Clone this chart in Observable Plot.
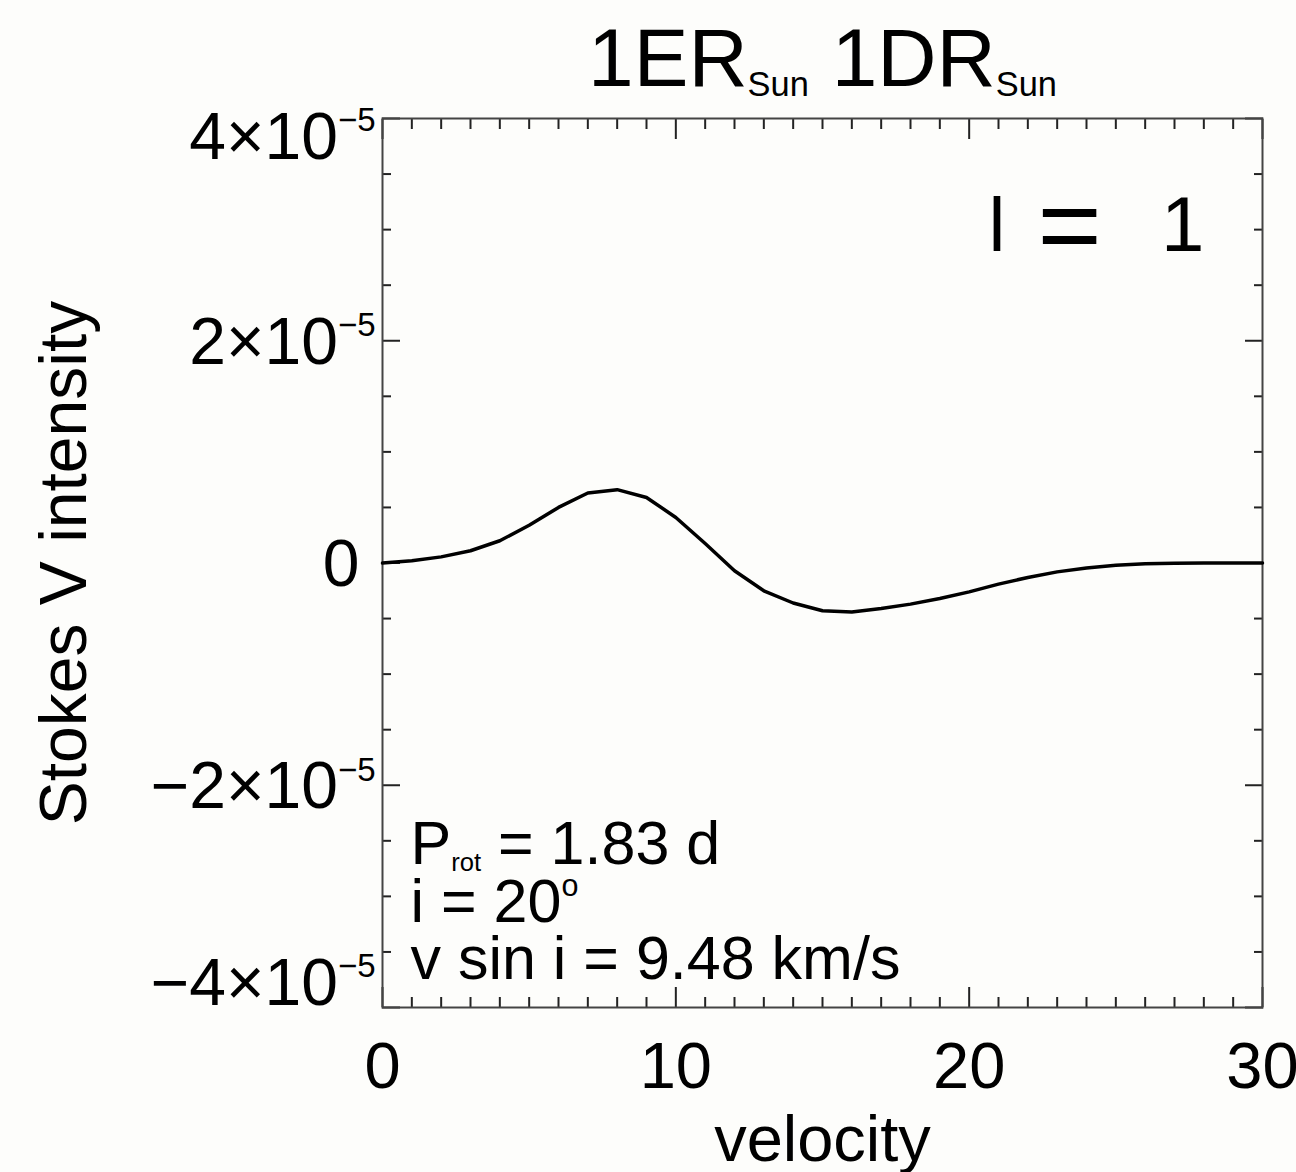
<!DOCTYPE html>
<html>
<head>
<meta charset="utf-8">
<script src="https://cdn.jsdelivr.net/npm/d3@7"></script>
<script src="https://cdn.jsdelivr.net/npm/@observablehq/plot@0.6"></script>
<style>
  body { margin: 0; background: #fdfdfb; }
  svg text { white-space: pre; }
</style>
</head>
<body>
<div id="chart"></div>
<script>
// ---- data ----
const velocity = [0,1,2,3,4,5,6,7,8,9,10,11,12,13,14,15,16,17,18,19,20,21,22,23,24,25,26,27,28,29,30];
const stokesV = [0, 2e-7, 5.5e-7, 1.1e-6, 2.0e-6, 3.4e-6, 5.0e-6, 6.3e-6, 6.6e-6, 5.9e-6, 4.1e-6, 1.75e-6,
  -7e-7, -2.5e-6, -3.6e-6, -4.3e-6, -4.4e-6, -4.1e-6, -3.7e-6, -3.2e-6, -2.6e-6, -1.9e-6, -1.3e-6,
  -8e-7, -4.5e-7, -2e-7, -6e-8, -2e-8, 0, 0, 0];

const xMajorTicks = [0, 10, 20, 30];
const xMinorTicks = [1,2,3,4,5,6,7,8,9,11,12,13,14,15,16,17,18,19,21,22,23,24,25,26,27,28,29];
const yMajorTicks = [-4e-5, -2e-5, 0, 2e-5, 4e-5];
const yMinorTicks = [-3.5e-5,-3e-5,-2.5e-5,-1.5e-5,-1e-5,-0.5e-5,0.5e-5,1e-5,1.5e-5,2.5e-5,3e-5,3.5e-5];
const xTickLabels = ["0", "10", "20", "30"];

const titleText = "1ER_{Sun} 1DR_{Sun}";
const xLabel = "velocity";
const yLabel = "Stokes V intensity";
const infoLines = ["P_{rot} = 1.83 d", "i = 20^{o}", "v sin i = 9.48 km/s"];

// ---- helpers ----
const data = velocity.map((v, i) => ({v, s: stokesV[i]}));
const yFmt = d => {
  if (d === 0) return "0";
  const m = Math.round(Math.abs(d) * 1e5);
  return (d < 0 ? "−" : "") + m + "×10^{−5}";
};
const xLabelData = xMajorTicks.map((t, i) => ({t, label: xTickLabels[i]}));
const FONT = "'Liberation Sans', Arial, Helvetica, sans-serif";
const tk = {fill: "none", label: null, stroke: "#222", strokeWidth: 2};

const plot = Plot.plot({
  width: 1296,
  height: 1172,
  marginLeft: 382,
  marginRight: 34,
  marginTop: 118,
  marginBottom: 165,
  style: {fontFamily: FONT, background: "#fdfdfb", color: "#000", overflow: "visible"},
  x: {domain: [0, 30]},
  y: {domain: [-4e-5, 4e-5]},
  marks: [
    // ticks (inward) on all four sides
    Plot.axisX(xMajorTicks, {anchor: "bottom", tickSize: -20, ...tk}),
    Plot.axisX(xMinorTicks, {anchor: "bottom", tickSize: -10, ...tk}),
    Plot.axisX(xMajorTicks, {anchor: "top", tickSize: -20, ...tk}),
    Plot.axisX(xMinorTicks, {anchor: "top", tickSize: -10, ...tk}),
    Plot.axisY(yMajorTicks, {anchor: "left", tickSize: -18, ...tk}),
    Plot.axisY(yMinorTicks, {anchor: "left", tickSize: -9, ...tk}),
    Plot.axisY(yMajorTicks, {anchor: "right", tickSize: -18, ...tk}),
    Plot.axisY(yMinorTicks, {anchor: "right", tickSize: -9, ...tk}),
    Plot.frame({stroke: "#444", strokeWidth: 2}),
    // curve
    Plot.line(data, {x: "v", y: "s", stroke: "#000", strokeWidth: 3.5, curve: "linear"}),
    // x tick labels
    Plot.text(xLabelData, {x: "t", frameAnchor: "bottom", text: "label", lineAnchor: "bottom", dy: 80, fontSize: 65, fill: "#000"}),
    // y tick labels
    Plot.text(yMajorTicks.filter(d => Math.abs(d) === 2e-5), {y: d => d, frameAnchor: "left", text: yFmt, textAnchor: "end", lineAnchor: "bottom", dx: -7, dy: 23, fontSize: 66, fill: "#000"}),
    Plot.text(yMajorTicks.filter(d => d === 0), {y: d => d, frameAnchor: "left", text: yFmt, textAnchor: "end", lineAnchor: "bottom", dx: -23, dy: 23, fontSize: 66, fill: "#000"}),
    Plot.text(yMajorTicks.filter(d => d === 4e-5), {y: d => d, frameAnchor: "left", text: yFmt, textAnchor: "end", lineAnchor: "bottom", dx: -7, dy: 40, fontSize: 66, fill: "#000"}),
    Plot.text(yMajorTicks.filter(d => d === -4e-5), {y: d => d, frameAnchor: "left", text: yFmt, textAnchor: "end", lineAnchor: "bottom", dx: -7, dy: -3, fontSize: 66, fill: "#000"}),
    // axis titles
    Plot.text([xLabel], {frameAnchor: "bottom", text: d => d, lineAnchor: "bottom", dy: 153, fontSize: 65, fill: "#000"}),
    Plot.text([yLabel], {frameAnchor: "left", text: d => d, rotate: -90, textAnchor: "middle", lineAnchor: "bottom", dx: -297, fontSize: 66, fill: "#000"}),
    // title
    Plot.text([titleText], {frameAnchor: "top", text: d => d, lineAnchor: "bottom", dy: -33, fontSize: 82, fill: "#000"}),
    // l = 1 annotation
    Plot.text(["l"], {frameAnchor: "top-right", text: d => d, textAnchor: "start", lineAnchor: "bottom", dx: -274, dy: 132, fontSize: 76, fill: "#000"}),
    Plot.text(["="], {frameAnchor: "top-right", text: d => d, textAnchor: "middle", lineAnchor: "bottom", dx: -193, dy: 143, fontSize: 110, fill: "#000"}),
    Plot.text(["1"], {frameAnchor: "top-right", text: d => d, textAnchor: "end", lineAnchor: "bottom", dx: -58, dy: 132, fontSize: 78, fill: "#000"}),
    // parameter annotation
    Plot.text([infoLines[0]], {frameAnchor: "bottom-left", text: d => d, textAnchor: "start", lineAnchor: "bottom", dx: 28, dy: -144, fontSize: 61, fill: "#000"}),
    Plot.text([infoLines[1]], {frameAnchor: "bottom-left", text: d => d, textAnchor: "start", lineAnchor: "bottom", dx: 28, dy: -86, fontSize: 61, fill: "#000"}),
    Plot.text([infoLines[2]], {frameAnchor: "bottom-left", text: d => d, textAnchor: "start", lineAnchor: "bottom", dx: 28, dy: -29, fontSize: 61, fill: "#000"})
  ]
});

document.getElementById("chart").appendChild(plot);

// turn _{..} and ^{..} markup into real sub/superscript tspans
function richText(svg) {
  svg.querySelectorAll("text").forEach(t => {
    const s = t.textContent;
    if (!/[_^]\{/.test(s)) return;
    const fs = parseFloat(getComputedStyle(t).fontSize);
    t.textContent = "";
    let offset = 0;
    const add = (str, size, shift) => {
      const ts = document.createElementNS("http://www.w3.org/2000/svg", "tspan");
      ts.setAttribute("dy", shift - offset);
      offset = shift;
      if (size) ts.setAttribute("font-size", size);
      ts.textContent = str;
      t.appendChild(ts);
    };
    const re = /([_^])\{([^}]*)\}/g;
    let last = 0, m;
    while ((m = re.exec(s))) {
      if (m.index > last) add(s.slice(last, m.index), null, 0);
      if (m[1] === "_") add(m[2], fs * 0.42, fs * 0.13);
      else add(m[2], fs * 0.5, -fs * 0.42);
      last = re.lastIndex;
    }
    if (last < s.length) add(s.slice(last), null, 0);
  });
}
richText(plot);
</script>
</body>
</html>
